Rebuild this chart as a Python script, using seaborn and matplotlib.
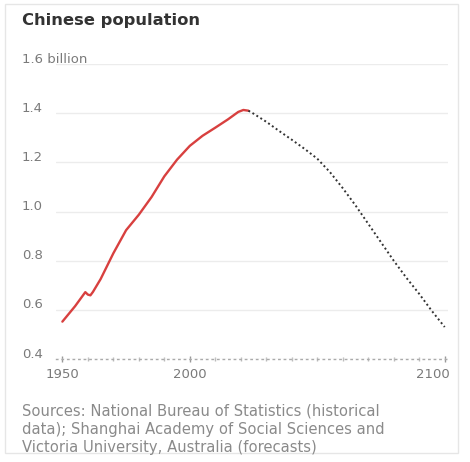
import matplotlib
matplotlib.use("Agg")
import matplotlib.pyplot as plt
import matplotlib.transforms as transforms
import numpy as np
import pandas as pd
import seaborn as sns
from matplotlib.patches import Rectangle

# historical population, billions
hist_years = [1950, 1955, 1959, 1960, 1961, 1962, 1965, 1970, 1975, 1980, 1985,
              1990, 1995, 2000, 2005, 2010, 2015, 2019, 2021, 2023]
hist_pop = [0.552, 0.615, 0.672, 0.662, 0.659, 0.673, 0.725, 0.830, 0.924, 0.987,
            1.059, 1.143, 1.211, 1.267, 1.308, 1.341, 1.375, 1.405, 1.413, 1.410]

# forecast, billions
fc_years = [2023, 2025, 2030, 2035, 2040, 2045, 2050, 2055, 2060, 2065, 2070,
            2075, 2080, 2085, 2090, 2095, 2100]
fc_pop = [1.410, 1.398, 1.365, 1.328, 1.292, 1.255, 1.215, 1.16, 1.095, 1.025,
          0.95, 0.875, 0.80, 0.73, 0.665, 0.595, 0.53]

y_ticks = [0.4, 0.6, 0.8, 1.0, 1.2, 1.4, 1.6]
y_labels = ["0.4", "0.6", "0.8", "1.0", "1.2", "1.4", "1.6 billion"]
x_ticks = [1950, 2000, 2100]

title = "Chinese population"
source = ("Sources: National Bureau of Statistics (historical\n"
          "data); Shanghai Academy of Social Sciences and\n"
          "Victoria University, Australia (forecasts)")

sns.set_style("white")
plt.rcParams['font.family'] = ['DejaVu Sans']

W, H = 470, 462
fig = plt.figure(figsize=(W / 100, H / 100), dpi=100)
ax = fig.add_axes([56 / W, 1 - 359 / H, (448 - 56) / W, (359 - 64) / H])

hist = pd.DataFrame({"year": hist_years, "pop": hist_pop})
fc = pd.DataFrame({"year": fc_years, "pop": fc_pop})

sns.lineplot(data=hist, x="year", y="pop", ax=ax, color="#d8403f", linewidth=1.7)
sns.lineplot(data=fc, x="year", y="pop", ax=ax, color="#333333", linewidth=1.4,
             linestyle=(0, (1, 1.4)))

ax.set_xlim(1947.5, 2101.3)
ax.set_ylim(0.4, 1.6)
ax.set_xlabel("")
ax.set_ylabel("")

# y grid + labels sitting just above the lines
ax.set_yticks(y_ticks)
ax.set_yticklabels(y_labels)
ax.grid(axis="y", color="#ececec", linewidth=1)
ax.tick_params(axis="y", length=0, pad=24.5, labelsize=9.5, labelcolor="#7a7a7a")
up = transforms.ScaledTranslation(0, 1 / 72, fig.dpi_scale_trans)
for lab in ax.get_yticklabels():
    lab.set_horizontalalignment("left")
    lab.set_verticalalignment("baseline")
    lab.set_transform(lab.get_transform() + up)

# x axis: dotted baseline with small ticks
ax.set_xticks(x_ticks)
ax.set_xticklabels([str(x) for x in x_ticks])
ax.set_xticks(np.arange(1950, 2101, 10), minor=True)
ax.tick_params(axis="x", which="both", bottom=True)
ax.tick_params(axis="x", which="major", length=5, width=1, color="#999999",
               labelsize=9.5, labelcolor="#7a7a7a", pad=4, direction="inout")
ax.tick_params(axis="x", which="minor", length=3, width=1, color="#bbbbbb",
               direction="inout")
left = transforms.ScaledTranslation(-12 / 100, 0, fig.dpi_scale_trans)
ax.get_xticklabels()[-1].set_transform(ax.get_xticklabels()[-1].get_transform() + left)

for s in ["top", "right", "left"]:
    ax.spines[s].set_visible(False)
ax.spines["bottom"].set_color("#aaaaaa")
ax.spines["bottom"].set_linestyle((0, (1, 3)))
ax.spines["bottom"].set_linewidth(1)

fig.text(22 / W, 1 - 20 / H, title, fontsize=11.8, fontweight="bold",
         color="#333333", va="center", ha="left")
fig.text(22 / W, 1 - 404 / H, source, fontsize=10.6, color="#8a8a8a",
         va="top", ha="left", linespacing=1.25)

fig.patches.append(Rectangle((5 / W, 1 - 453 / H), (458 - 5) / W, (453 - 4) / H,
                             transform=fig.transFigure, fill=False,
                             edgecolor="#e6e6e6", linewidth=1))

fig.savefig("out.png", dpi=100)
